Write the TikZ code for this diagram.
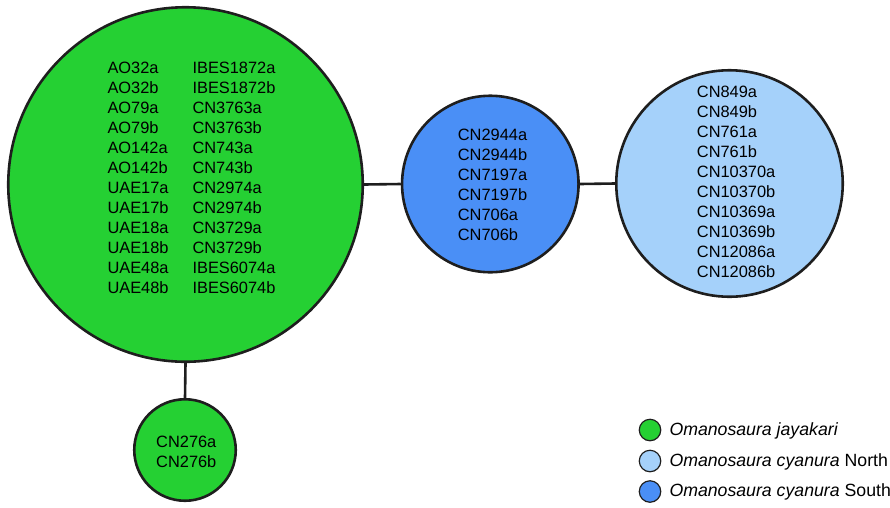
\documentclass[tikz,border=0pt]{standalone}
\usepackage{fontspec}
\setmainfont{Liberation Sans}
\definecolor{jgreen}{RGB}{37,208,51}
\definecolor{sblue}{RGB}{74,143,246}
\definecolor{nblue}{RGB}{165,209,250}
\definecolor{edgec}{RGB}{30,30,30}
\begin{document}
\begin{tikzpicture}[x=1pt,y=-1pt,
  hap/.style={circle,draw=edgec,line width=2.6pt,inner sep=0pt},
  lab/.style={anchor=base west,inner sep=0pt,font=\fontsize{16.4}{20}\selectfont},
  leg/.style={circle,draw=edgec,line width=1.2pt,inner sep=0pt,minimum size=21.5pt},
  legtext/.style={anchor=base west,inner sep=0pt,font=\fontsize{17.7}{20}\selectfont},
  link/.style={draw=edgec,line width=2.6pt}]
\useasboundingbox (0,0) rectangle (890,507);
% haplotype circles
\node[hap,fill=jgreen,minimum size=354.5pt] (big) at (185.5,184.5) {};
\node[hap,fill=sblue,minimum size=176.5pt] (south) at (490.3,184) {};
\node[hap,fill=nblue,minimum size=226.5pt] (north) at (729.5,183.5) {};
\node[hap,fill=jgreen,minimum size=101.5pt] (small) at (185,450) {};
% connectors
\draw[link] (big.east) -- (south.west);
\draw[link] (south.east) -- (north.west);
\draw[link] (big.south) -- (small.north);
% big circle labels
\foreach \t [count=\i] in {AO32a,AO32b,AO79a,AO79b,AO142a,AO142b,UAE17a,UAE17b,UAE18a,UAE18b,UAE48a,UAE48b}
  \node[lab] (bl\i) at (107.3,{73.3+20*(\i-1)}) {\t};
\foreach \t [count=\i] in {IBES1872a,IBES1872b,CN3763a,CN3763b,CN743a,CN743b,CN2974a,CN2974b,CN3729a,CN3729b,IBES6074a,IBES6074b}
  \node[lab] (br\i) at (192.3,{73.3+20*(\i-1)}) {\t};
% south labels
\foreach \t [count=\i] in {CN2944a,CN2944b,CN7197a,CN7197b,CN706a,CN706b}
  \node[lab] (sl\i) at (457.7,{140.7+20*(\i-1)}) {\t};
% north labels
\foreach \t [count=\i] in {CN849a,CN849b,CN761a,CN761b,CN10370a,CN10370b,CN10369a,CN10369b,CN12086a,CN12086b}
  \node[lab] (nl\i) at (696.7,{97.3+20*(\i-1)}) {\t};
% small labels
\node[lab] (sm1) at (156,447.3) {CN276a};
\node[lab] (sm2) at (156,467.3) {CN276b};
% legend
\node[leg,fill=jgreen] (lg1) at (650,430) {};
\node[leg,fill=nblue] (lg2) at (650,461) {};
\node[leg,fill=sblue] (lg3) at (650,491.5) {};
\node[legtext] (lt1) at (669.3,435.5) {\itshape Omanosaura jayakari};
\node[legtext] (lt2) at (669.3,466) {\itshape Omanosaura cyanura\/\upshape\ North};
\node[legtext] (lt3) at (669.3,496.5) {\itshape Omanosaura cyanura\/\upshape\ South};
\end{tikzpicture}
\end{document}
